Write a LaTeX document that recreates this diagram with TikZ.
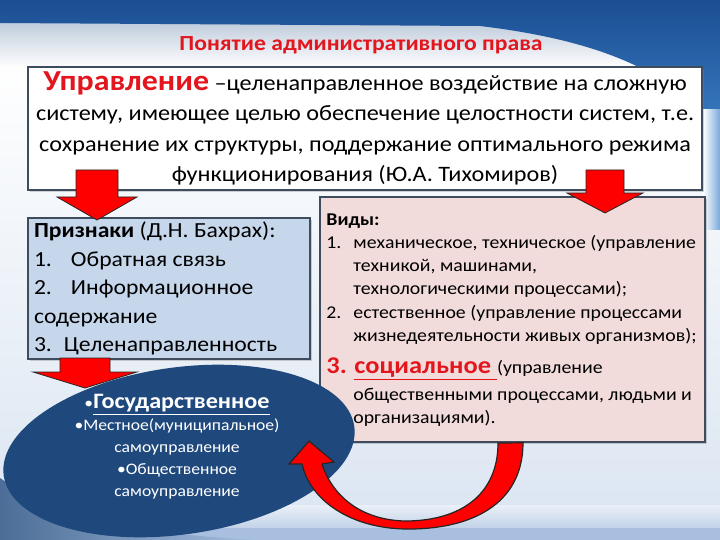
\documentclass[tikz,border=0pt]{standalone}
\usepackage{fontspec}
\setmainfont{Carlito}[FakeStretch=1.1]
\usetikzlibrary{shapes.geometric,shadows}

\definecolor{titlered}{HTML}{E3161E}
\definecolor{arrowred}{HTML}{FF0000}
\definecolor{boxline}{HTML}{3E4C5E}
\definecolor{signblue}{HTML}{C6D7EC}
\definecolor{kindpink}{HTML}{F2DCDB}
\definecolor{ellblue}{HTML}{1F497D}
\definecolor{topblue}{HTML}{1B4E93}
\definecolor{midblue}{HTML}{3F82C8}
\definecolor{bandgray}{HTML}{C0CCDC}
\definecolor{palebg}{HTML}{DCE6F2}
\definecolor{footblue}{HTML}{A8BFDF}

\begin{document}
\begin{tikzpicture}[x=1pt, y=-1pt,
  box/.style={draw=boxline, line width=1.6pt, inner sep=0pt,
    drop shadow={shadow xshift=2pt, shadow yshift=-2pt, opacity=0.35}},
  redarrow/.style={fill=arrowred, draw=black!85, line width=0.8pt, line join=miter}]

\useasboundingbox (0,0) rectangle (720,540);

% slide background
\shade[top color=white, bottom color=palebg] (0,60) rectangle (720,510);
\shade[top color=bandgray, bottom color=white] (0,22) rectangle (720,68);
\shade[top color=topblue, bottom color=midblue]
  (0,0) -- (720,0) -- (720,150) .. controls (700,95) and (640,45) .. (480,26) -- (0,23) -- cycle;
\shade[left color=white, right color=midblue!70] (703,110) rectangle (720,230);
\shade[top color=palebg!60, bottom color=footblue!70] (0,505) rectangle (720,528);
\fill[footblue] (0,528) rectangle (720,540);
\shade[left color=ellblue!80, right color=footblue]
  (0,478) .. controls (60,520) and (150,535) .. (260,540) -- (0,540) -- cycle;

\node[text=titlered, font=\fontsize{21.5}{24}\selectfont\bfseries] (title) at (361,45) {Понятие административного права};

% boxes
\node[box, fill=white, minimum width=674pt, minimum height=123pt, align=center,
  font=\fontsize{22}{30.5}\selectfont] (upr) at (365,128.5)
  {{\fontsize{29}{30}\selectfont\bfseries\color{titlered}Управление} –целенаправленное воздействие на сложную\\
   систему, имеющее целью обеспечение целостности систем, т.е.\\
   сохранение их структуры, поддержание оптимального режима\\
   функционирования (Ю.А. Тихомиров)};

\node[box, fill=signblue, minimum width=282pt, minimum height=141pt, align=left, text width=270pt,
  font=\fontsize{21.5}{28.5}\selectfont] (priz) at (169,288.5)
  {\spaceskip=0pt\xspaceskip=0pt
   \textbf{Признаки} (Д.Н. Бахрах):\\
   \makebox[37pt][l]{1.}Обратная связь\\
   \makebox[37pt][l]{2.}Информационное\\
   содержание\\
   \makebox[30pt][l]{3.}Целенаправленность};

\node[box, fill=kindpink, minimum width=385pt, minimum height=245pt] (vid) at (512.5,319.5) {};
\node[anchor=west, align=left, inner sep=0pt, font=\fontsize{18}{23}\selectfont] (vidtext) at ([xshift=7pt, yshift=-1pt]vid.west)
  {\spaceskip=0pt\xspaceskip=0pt
   \textbf{Виды:}\\
   \makebox[27pt][l]{1.}механическое, техническое (управление\\
   \hspace*{27pt}техникой, машинами,\\
   \hspace*{27pt}технологическими процессами);\\[1pt]
   \makebox[27pt][l]{2.}естественное (управление процессами\\
   \hspace*{27pt}жизнедеятельности живых организмов);\\[9pt]
   {\color{titlered}\fontsize{24}{23}\selectfont\bfseries\makebox[28pt][l]{3.}\underline{социальное\ }}(управление\\[4pt]
   \hspace*{27pt}общественными процессами, людьми и\\
   \hspace*{27pt}организациями).};

\node[ellipse, fill=ellblue, minimum width=354pt, minimum height=167pt, rotate=8] (gos) at (179,451) {};
\node[text=white, align=center, font=\fontsize{16}{22}\selectfont] (gostext) at (177,447)
  {•{\fontsize{22}{22}\selectfont\bfseries\underline{Государственное}}\\
   •Местное(муниципальное)\\
   самоуправление\\
   •Общественное\\
   самоуправление};

% block arrows
\coordinate (tipL) at (97,220);
\coordinate (tipR) at (605,213);
\coordinate (tipE) at (85,388);
\draw[redarrow] (tipL) -- ++(-40,-23) -- ++(19,0) -- ++(0,-27) -- ++(42,0) -- ++(0,27) -- ++(19,0) -- cycle;
\draw[redarrow] (tipR) -- ++(-38,-20) -- ++(19,0) -- ++(0,-23) -- ++(38,0) -- ++(0,23) -- ++(19,0) -- cycle;
\draw[redarrow] (tipE) -- ++(-52,-16) -- ++(27,0) -- ++(0,-14) -- ++(50,0) -- ++(0,14) -- ++(27,0) -- cycle;

% curved arrow from the social kind back to the ellipse
\coordinate (cstart) at (vid.south -| 523,0);
\coordinate (ctip) at (309,441);
\draw[redarrow, line width=1.2pt]
  (cstart) .. controls (523,505) and (470,530) .. (405,529)
  .. controls (350,528) and (310,500) .. (302,464) -- (289,464) -- (ctip) -- (334,462) -- (322,464)
  .. controls (332,495) and (360,520) .. (405,521)
  .. controls (460,521) and (498,495) .. (498,443) -- cycle;

\end{tikzpicture}
\end{document}
